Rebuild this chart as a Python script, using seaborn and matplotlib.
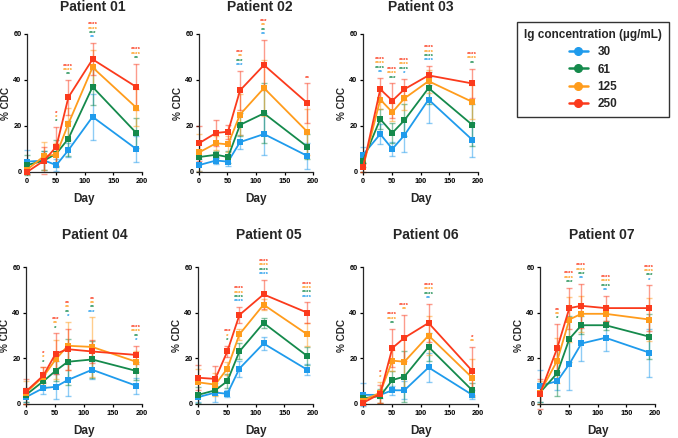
import numpy as np
import pandas as pd
import matplotlib
matplotlib.use("Agg")
import matplotlib.pyplot as plt
from matplotlib.lines import Line2D
import seaborn as sns

# days of sampling
days = [0, 30, 51, 72, 114, 190]
concs = ["30", "61", "125", "250"]
colors = ["#1f9bec", "#158a4c", "#ff9c1c", "#fb3a1c"]
patients = ["Patient 01", "Patient 02", "Patient 03", "Patient 04",
            "Patient 05", "Patient 06", "Patient 07"]

# mean %CDC, rows = 30, 61, 125, 250 ug/mL
p01_mean = [[4.5, 5, 3, 9.5, 24, 10], [3, 5, 8, 14.5, 37, 17],
            [1, 7, 7.5, 21, 45.5, 28], [0, 5, 11, 32.5, 49, 37]]
p01_err = [[5, 4, 2.5, 3, 10, 5.5], [4.5, 4, 6, 7.5, 8, 6.5],
           [2, 6, 5, 7, 7.5, 8], [1, 6, 8.5, 7.5, 7, 10]]
p01_stars = {51: [0, 1, 1, 1], 72: [0, 2, 4, 4], 114: [2, 3, 4, 4], 190: [0, 2, 4, 4]}

p02_mean = [[3, 5, 4.5, 13, 16.5, 7], [6.5, 7.5, 6.5, 20.5, 25.5, 11],
            [8.5, 12.5, 12, 25, 36.5, 17.5], [12.5, 17, 17.5, 35.5, 46.5, 30]]
p02_err = [[2.5, 1.5, 2, 3, 9, 5.5], [3, 1.5, 2.5, 5, 13, 5.5],
           [8, 3, 3.5, 9, 12, 10], [7.5, 5.5, 3, 8.5, 11, 8.5]]
p02_stars = {72: [3, 3, 2, 3], 114: [2, 2, 2, 3], 190: [0, 0, 0, 2]}

p03_mean = [[7.5, 16.5, 10, 16, 31.5, 14], [5, 23, 17, 22.5, 36.5, 20.5],
            [2, 31.5, 26, 32, 39.5, 30.5], [2, 36, 31, 36, 42, 38.5]]
p03_err = [[3.5, 4.5, 3, 7.5, 10, 7.5], [3, 4.5, 4.5, 7, 7, 9],
           [2, 4, 4, 5, 5, 7.5], [2, 5, 7.5, 4.5, 4, 6.5]]
p03_stars = {30: [2, 4, 4, 4], 51: [0, 3, 4, 4], 72: [1, 4, 4, 4],
             114: [4, 4, 4, 4], 190: [0, 2, 4, 4]}

p04_mean = [[3, 7, 7.5, 10.5, 15, 8], [4, 10, 14.5, 18.5, 19.5, 14.5],
            [5, 12, 19.5, 25.5, 25, 18.5], [5.5, 12.5, 22, 24, 23, 21.5]]
p04_err = [[2, 2.5, 5.5, 7, 4, 3.5], [3, 3, 4.5, 10, 8, 4],
           [5, 4, 8.5, 10.5, 13, 4.5], [5.5, 3.5, 9, 9, 5, 4]]
p04_stars = {30: [0, 1, 1, 1], 51: [0, 1, 2, 3], 72: [1, 2, 2, 2],
             114: [3, 2, 2, 2], 190: [1, 2, 4, 4]}

p05_mean = [[3, 5, 4.5, 15.5, 26.5, 15], [4, 6, 10, 23, 35.5, 21],
            [9.5, 8.5, 15.5, 30.5, 43.5, 30.5], [11.5, 11, 23, 39, 48, 40]]
p05_err = [[2, 4, 1.5, 3.5, 3, 2.5], [3.5, 2, 3, 3.5, 2, 4],
           [6, 5, 3, 2.5, 2.5, 5], [5.5, 5.5, 2.5, 3.5, 6.5, 4.5]]
p05_stars = {51: [0, 1, 1, 3], 72: [4, 4, 4, 4], 114: [4, 4, 4, 4], 190: [4, 4, 4, 4]}

p06_mean = [[4, 4, 6, 6, 16, 4], [2.5, 3.5, 10.5, 12, 25, 6],
            [1.5, 5, 19, 18.5, 30, 11.5], [0.5, 4.5, 24.5, 29, 35.5, 14.5]]
p06_err = [[5, 1.5, 2, 4, 6.5, 2], [2, 3, 4, 11, 6, 3],
           [1.5, 4.5, 4.5, 11, 8.5, 8], [1, 4, 8.5, 10, 8.5, 10.5]]
p06_stars = {30: [0, 0, 1, 1], 51: [0, 2, 4, 4], 72: [0, 0, 2, 4],
             114: [2, 4, 4, 4], 190: [0, 0, 2, 1]}

p07_mean = [[8, 10, 17.5, 26.5, 29, 22.5], [5, 13.5, 28.5, 34.5, 34.5, 29.5],
            [5, 19, 37, 39.5, 39.5, 37], [4.5, 24.5, 42, 43, 42, 42]]
p07_err = [[7, 4, 11.5, 7.5, 6, 10.5], [4, 10, 10, 4, 2, 10],
           [5, 10, 10, 8, 3.5, 9.5], [6.5, 10.5, 9, 9.5, 5.5, 10]]
p07_stars = {30: [0, 1, 2, 2], 51: [0, 3, 4, 4], 72: [2, 3, 4, 4],
             114: [2, 4, 4, 4], 190: [1, 3, 4, 4]}

all_mean = [p01_mean, p02_mean, p03_mean, p04_mean, p05_mean, p06_mean, p07_mean]
all_err = [p01_err, p02_err, p03_err, p04_err, p05_err, p06_err, p07_err]
all_stars = [p01_stars, p02_stars, p03_stars, p04_stars, p05_stars, p06_stars, p07_stars]

sns.set_style("ticks")
plt.rcParams['font.family'] = ['Liberation Sans', 'DejaVu Sans']
plt.rcParams['font.weight'] = 'bold'

W, H = 678, 438
fig = plt.figure(figsize=(W / 100, H / 100), dpi=100)

# axes boxes in pixels: left, top(60), right, bottom(0)
boxes = [(27, 34, 142, 172), (199, 34, 313, 172), (363, 34, 478, 172),
         (26, 267, 142, 404), (198, 267, 313, 404), (363, 267, 478, 404),
         (540, 267, 655, 404)]
title_x = [0.57, 0.53, 0.5, 0.59, 0.62, 0.55, 0.54]

pal = dict(zip(concs, colors))

for i, name in enumerate(patients):
    l, t, r, b = boxes[i]
    ax = fig.add_axes([l / W, 1 - b / H, (r - l) / W, (b - t) / H])
    rows = []
    for j, c in enumerate(concs):
        for d, m, e in zip(days, all_mean[i][j], all_err[i][j]):
            rows.append({"day": d, "cdc": m, "err": e, "conc": c})
    df = pd.DataFrame(rows)

    for j, c in enumerate(concs):
        sub = df[df.conc == c]
        ax.errorbar(sub.day, sub.cdc, yerr=sub.err, fmt='none', ecolor=colors[j],
                    alpha=0.5, elinewidth=1.0, capsize=2.5, capthick=1.0, zorder=2)
    sns.lineplot(data=df, x="day", y="cdc", hue="conc", palette=pal, marker="s",
                 markersize=4.5, markeredgewidth=0, linewidth=1.3, ax=ax,
                 legend=False, zorder=3)
    for ln in ax.lines:
        ln.set_clip_on(False)

    # significance stars, stacked red/orange/green/blue from top
    for d, counts in all_stars[i].items():
        k = days.index(d)
        top = max(all_mean[i][j][k] + all_err[i][j][k] for j in range(4))
        y = top + 2.3
        for j in range(4):
            n = counts[j]
            if n == 0:
                continue
            ax.text(d, y, "*" * n, color=colors[j], fontsize=4.6, ha='center',
                    va='center', fontweight='bold', clip_on=False)
            y += 1.9

    ax.set_xlim(0, 200)
    ax.set_ylim(0, 60)
    ax.set_xticks([0, 50, 100, 150, 200])
    ax.set_yticks([0, 20, 40, 60])
    ax.tick_params(labelsize=5.3, length=2.5, width=0.9, pad=1.5, colors='black')
    for lab in ax.get_xticklabels() + ax.get_yticklabels():
        lab.set_fontweight('bold')
    ax.set_xlabel("Day", fontsize=8.5, fontweight='bold', labelpad=6)
    ax.set_ylabel("% CDC", fontsize=7.2, fontweight='bold', labelpad=2)
    sns.despine(ax=ax)
    ax.spines['left'].set_linewidth(0.9)
    ax.spines['bottom'].set_linewidth(0.9)
    ty = 1.196 if i < 3 else 1.234
    ax.text(title_x[i], ty, name, transform=ax.transAxes, ha='center', va='center',
            fontsize=10, fontweight='bold')

handles = [Line2D([0], [0], color=c, marker='o', markersize=5.5, linewidth=1.8)
           for c in colors]
leg = fig.legend(handles, concs, title="Ig concentration (µg/mL)", loc='upper right',
                 bbox_to_anchor=(675 / W, 1 - 16 / H), fontsize=8.5, title_fontsize=8.5,
                 frameon=True, fancybox=False, edgecolor='black', handlelength=1.6,
                 labelspacing=0.45, alignment='center', borderpad=0.6)
leg.get_frame().set_linewidth(1.0)
leg.get_title().set_fontweight('bold')
for txt in leg.get_texts():
    txt.set_fontweight('bold')

fig.savefig("out.png", dpi=100)
